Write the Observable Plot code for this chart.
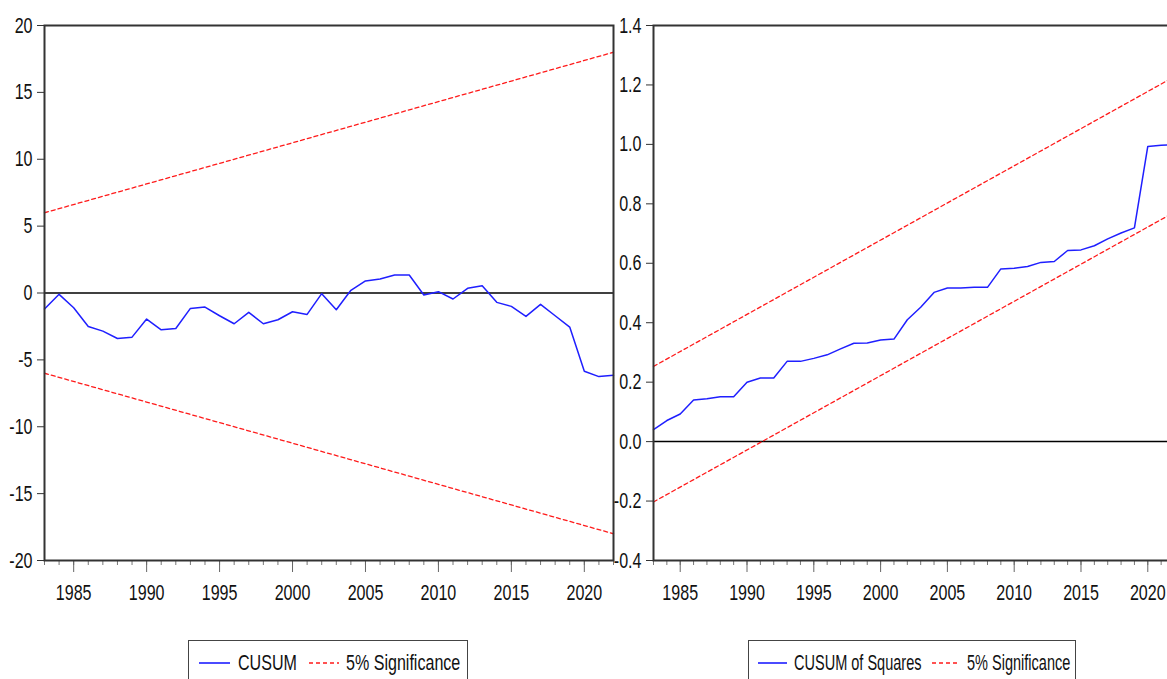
<!DOCTYPE html>
<html>
<head>
<meta charset="utf-8">
<script src="https://cdn.jsdelivr.net/npm/d3@7"></script>
<script src="https://cdn.jsdelivr.net/npm/@observablehq/plot@0.6"></script>
<style>
  html, body { margin: 0; padding: 0; background: #fff; }
  #page { position: relative; width: 1167px; height: 679px; overflow: hidden; }
  .panel { position: absolute; top: 0; }
  .legend {
    position: absolute; top: 640px; height: 50px; box-sizing: border-box;
    border: 1px solid #444; white-space: nowrap;
    font-family: "Liberation Sans", Arial, sans-serif; font-size: 22px; color: #111;
  }
  .legend .lab {
    position: absolute; top: 9px; line-height: 26px;
    transform-origin: 0 50%;
  }
  .legend svg { position: absolute; top: 20px; }
</style>
</head>
<body>
<div id="page"></div>
<script>
// Sample period and recursive-residual statistics
const years = [1983, 1984, 1985, 1986, 1987, 1988, 1989, 1990, 1991, 1992,
               1993, 1994, 1995, 1996, 1997, 1998, 1999, 2000, 2001, 2002,
               2003, 2004, 2005, 2006, 2007, 2008, 2009, 2010, 2011, 2012,
               2013, 2014, 2015, 2016, 2017, 2018, 2019, 2020, 2021, 2022];
const cusum = [-1.2, -0.1, -1.1, -2.5, -2.85, -3.4, -3.3, -1.95, -2.75, -2.65,
               -1.15, -1.05, -1.7, -2.3, -1.45, -2.3, -2.0, -1.4, -1.6, -0.05,
               -1.25, 0.2, 0.9, 1.05, 1.35, 1.35, -0.15, 0.1, -0.45, 0.35,
               0.55, -0.7, -1.0, -1.75, -0.85, -1.7, -2.55, -5.85, -6.25, -6.15];
const cusumSq = [0.04, 0.071, 0.093, 0.14, 0.144, 0.151, 0.151, 0.2, 0.214, 0.214,
                 0.27, 0.27, 0.28, 0.292, 0.312, 0.331, 0.332, 0.342, 0.345, 0.41,
                 0.452, 0.502, 0.517, 0.517, 0.519, 0.519, 0.581, 0.583, 0.589, 0.603,
                 0.606, 0.643, 0.645, 0.659, 0.682, 0.702, 0.719, 0.993, 0.997, 1.0];

// 5% significance bounds (straight lines between the sample end points)
const boundYears = [1983, 2022];
const cusumUpper = [6, 18];
const cusumLower = [-6, -18];
const sqUpper = [0.253, 1.228];
const sqLower = [-0.203, 0.772];

// Axis ticks
const majorYears = [1985, 1990, 1995, 2000, 2005, 2010, 2015, 2020];
const cusumTicks = [-20, -15, -10, -5, 0, 5, 10, 15, 20];
const sqTicks = [-0.4, -0.2, 0.0, 0.2, 0.4, 0.6, 0.8, 1.0, 1.2, 1.4];

const FONT = '"Liberation Sans", Arial, sans-serif';
const SQUEEZE = 0.73;          // horizontal compression of the lettering
const BLUE = "#1f1fff";
const RED = "#ff1a1a";

function panel({values, upper, lower, yDomain, yTicks, fmt, width, marginLeft, marginRight}) {
  const bounds = (v) => boundYears.map((yr, i) => ({year: yr, value: v[i]}));
  return Plot.plot({
    width, height: 620,
    marginTop: 25, marginBottom: 60, marginLeft, marginRight,
    style: {fontFamily: FONT, fontSize: "22px", color: "#111", background: "transparent", overflow: "visible"},
    x: {domain: [1983, 2022], label: null},
    y: {domain: yDomain, label: null},
    marks: [
      Plot.axisX({ticks: years, tickSize: 5, tickFormat: () => "", stroke: "#777", label: null}),
      Plot.axisX({ticks: majorYears, tickSize: 12, tickPadding: 12, tickFormat: d => String(d), stroke: "#666", label: null}),
      Plot.axisY({ticks: yTicks, tickSize: 7, tickPadding: 5, tickFormat: fmt, stroke: "#333", label: null}),
      Plot.ruleY([0], {stroke: "#000", strokeWidth: 1.5}),
      Plot.line(bounds(upper), {x: "year", y: "value", stroke: RED, strokeWidth: 1.3, strokeDasharray: "4,3"}),
      Plot.line(bounds(lower), {x: "year", y: "value", stroke: RED, strokeWidth: 1.3, strokeDasharray: "4,3"}),
      Plot.line(values, {x: (d, i) => years[i], y: d => d, stroke: BLUE, strokeWidth: 1.5}),
      Plot.frame({stroke: "#333", strokeWidth: 2})
    ]
  });
}

// Narrow each tick label around its anchor point (wraps the label in a group)
function condense(svg, sx) {
  svg.querySelectorAll("text").forEach(t => {
    const bb = t.getBBox();
    const anchor = getComputedStyle(t).textAnchor;
    let ax = anchor === "end" ? bb.x + bb.width : anchor === "start" ? bb.x : bb.x + bb.width / 2;
    let ay = bb.y + bb.height / 2;
    const list = t.transform.baseVal;
    if (list.numberOfItems) {
      const m = list.consolidate().matrix;
      const p = new DOMPoint(ax, ay).matrixTransform(m);
      ax = p.x; ay = p.y;
    }
    const g = document.createElementNS("http://www.w3.org/2000/svg", "g");
    g.setAttribute("transform", `translate(${ax},${ay}) scale(${sx},1) translate(${-ax},${-ay})`);
    t.parentNode.insertBefore(g, t);
    g.appendChild(t);
  });
}

const page = document.getElementById("page");

const left = panel({
  values: cusum, upper: cusumUpper, lower: cusumLower,
  yDomain: [-20, 20], yTicks: cusumTicks, fmt: d => String(d),
  width: 620, marginLeft: 44, marginRight: 7
});
left.classList.add("panel");
left.style.left = "0px";
page.appendChild(left);
condense(left, SQUEEZE);

const right = panel({
  values: cusumSq, upper: sqUpper, lower: sqLower,
  yDomain: [-0.4, 1.4], yTicks: sqTicks, fmt: d => d.toFixed(1),
  width: 562, marginLeft: 39, marginRight: 2
});
right.classList.add("panel");
right.style.left = "614px";
page.appendChild(right);
condense(right, SQUEEZE);

// Legends below each panel
function legend(leftPx, widthPx, seriesName, pos, sx) {
  const box = document.createElement("div");
  box.className = "legend";
  box.style.left = leftPx + "px";
  box.style.width = widthPx + "px";
  const sample = (x, w, stroke, dash) =>
    `<svg width="${w}" height="4" style="left:${x}px"><line x1="0" x2="${w}" y1="2" y2="2" stroke="${stroke}" stroke-width="1.6"${dash ? ` stroke-dasharray="${dash}"` : ""}/></svg>`;
  const label = (x, text) =>
    `<span class="lab" style="left:${x}px;transform:scaleX(${sx})">${text}</span>`;
  box.innerHTML =
    sample(pos[0], pos[1] - pos[0], BLUE) + label(pos[2], seriesName) +
    sample(pos[3], pos[4] - pos[3], RED, "4,3") + label(pos[5], "5% Significance");
  page.appendChild(box);
}
legend(188, 280, "CUSUM", [10, 41, 49, 120, 150, 157], 0.73);
legend(748, 328, "CUSUM of Squares", [9, 38, 45, 183, 210, 218], 0.66);
</script>
</body>
</html>
